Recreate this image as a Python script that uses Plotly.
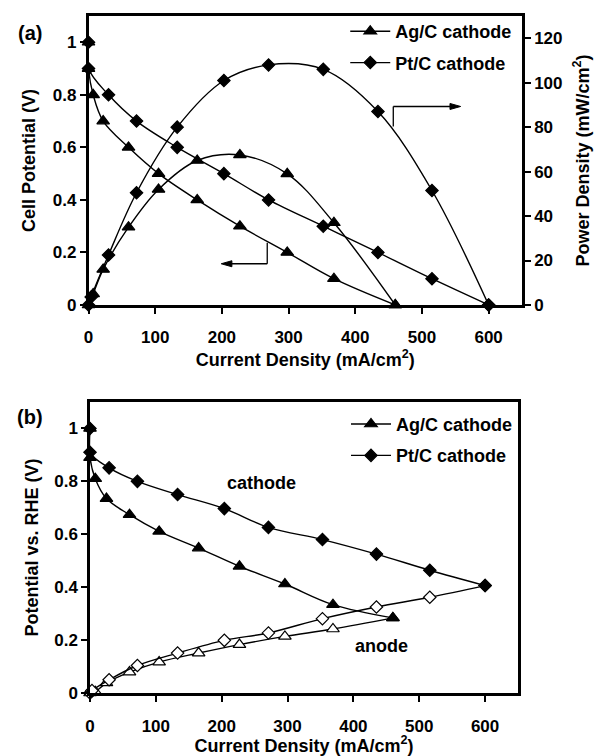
import plotly.graph_objects as go

# ---------------- data ----------------
# Panel (a): cell potential (V) and power density (mW/cm2) vs current density (mA/cm2)
ag_i_a = [0, 0, 7, 22, 60, 105, 163, 227, 298, 368, 460]
ag_v_a = [1.0, 0.9, 0.8, 0.7, 0.6, 0.5, 0.4, 0.3, 0.2, 0.1, 0.0]
ag_pi_a = [0, 7, 22, 60, 105, 163, 227, 298, 368, 460]
ag_p_a = [0, 5, 16, 35, 52, 65, 67.5, 59, 37, 0]

pt_i_a = [0, 0, 30, 72, 133, 203, 270, 352, 434, 515, 600]
pt_v_a = [1.0, 0.9, 0.8, 0.7, 0.6, 0.5, 0.4, 0.3, 0.2, 0.1, 0.0]
pt_pi_a = [0, 4, 30, 72, 133, 203, 270, 352, 434, 515, 600]
pt_p_a = [0, 3.6, 22.5, 50.5, 80, 101, 108, 106, 87, 51.5, 0]

# Panel (b): electrode potentials vs RHE (V)
ag_i_b = [0, 0, 8, 25, 60, 105, 165, 227, 296, 369, 460]
ag_cat_b = [1.0, 0.89, 0.81, 0.735, 0.674, 0.611, 0.548, 0.479, 0.412, 0.334, 0.284]
ag_ai_b = [0, 8, 25, 60, 105, 165, 227, 296, 369, 460]
ag_an_b = [0, 0.005, 0.038, 0.079, 0.117, 0.151, 0.183, 0.214, 0.242, 0.284]

pt_i_b = [0, 0, 29, 72, 133, 204, 271, 353, 435, 516, 600]
pt_cat_b = [1.0, 0.91, 0.851, 0.80, 0.75, 0.697, 0.626, 0.58, 0.525, 0.464, 0.406]
pt_ai_b = [0, 3, 29, 72, 133, 204, 271, 353, 435, 516, 600]
pt_an_b = [0, 0.009, 0.05, 0.104, 0.151, 0.199, 0.227, 0.281, 0.325, 0.362, 0.406]

x_ticks = [0, 100, 200, 300, 400, 500, 600]
v_ticks = [0, 0.2, 0.4, 0.6, 0.8, 1.0]
v_ticktext = ["0", "0.2", "0.4", "0.6", "0.8", "1"]
p_ticks = [0, 20, 40, 60, 80, 100, 120]

series_names = ["Ag/C cathode", "Pt/C cathode"]
x_title = "Current Density (mA/cm<sup>2</sup>)"
ya_title = "Cell Potential (V)"
y2_title = "Power Density (mW/cm<sup>2</sup>)"
yb_title = "Potential vs. RHE (V)"

# ---------------- styling ----------------
FONT = "Liberation Sans, Arial, Helvetica, sans-serif"
FS_TICK = 17
FS = 18
TRI, DIA = 11, 9.5


def trace(x, y, sym, xa, ya, fill="black", size=10, name=None, legend="legend", show=False, group=None):
    return go.Scatter(
        x=x, y=y, mode="lines+markers", name=name, showlegend=show, legend=legend,
        legendgroup=group, xaxis=xa, yaxis=ya, cliponaxis=False,
        line=dict(color="black", width=1.4, shape="spline", smoothing=1.0),
        marker=dict(symbol=sym, size=size, color=fill, line=dict(color="black", width=1.2)),
    )


fig = go.Figure()
# Panel (a)
fig.add_trace(trace(ag_pi_a, ag_p_a, "triangle-up", "x", "y2", size=TRI))
fig.add_trace(trace(pt_pi_a, pt_p_a, "diamond", "x", "y2", size=DIA))
fig.add_trace(trace(ag_i_a, ag_v_a, "triangle-up", "x", "y", size=TRI, name=series_names[0], show=True, group="a1"))
fig.add_trace(trace(pt_i_a, pt_v_a, "diamond", "x", "y", size=DIA, name=series_names[1], show=True, group="a2"))
# Panel (b)
fig.add_trace(trace(ag_ai_b, ag_an_b, "triangle-up", "x2", "y3", fill="white", size=TRI))
fig.add_trace(trace(pt_ai_b, pt_an_b, "diamond", "x2", "y3", fill="white", size=DIA))
fig.add_trace(trace(ag_i_b, ag_cat_b, "triangle-up", "x2", "y3", size=TRI, name=series_names[0],
                    legend="legend2", show=True, group="b1"))
fig.add_trace(trace(pt_i_b, pt_cat_b, "diamond", "x2", "y3", size=DIA, name=series_names[1],
                    legend="legend2", show=True, group="b2"))

W, H = 594, 756
ax_common = dict(showline=True, linecolor="black", linewidth=2.5, ticks="outside", ticklen=6,
                 tickwidth=2, tickcolor="black", showgrid=False, zeroline=False, automargin=False,
                 tickfont=dict(family=FONT, size=FS_TICK, color="black", weight="bold"))
title_font = dict(family=FONT, size=FS, color="black", weight="bold")

dom_xa = [88.5 / W, 522 / W]
dom_ya = [1 - 305 / H, 1 - 16 / H]
dom_xb = [90 / W, 518 / W]
dom_yb = [1 - 693 / H, 1 - 402 / H]

legend_common = dict(xanchor="right", yanchor="top", bgcolor="rgba(0,0,0,0)",
                     font=dict(size=FS), itemwidth=40, tracegroupgap=5, traceorder="grouped")

fig.update_layout(
    width=W, height=H, margin=dict(l=0, r=0, t=0, b=0),
    paper_bgcolor="white", plot_bgcolor="white",
    font=dict(family=FONT, size=FS, color="black", weight="bold"),
    xaxis=dict(domain=dom_xa, anchor="y", range=[0, 650], tickvals=x_ticks, mirror=True,
               ticklabelstandoff=9, title=dict(text=x_title, font=title_font, standoff=6), **ax_common),
    yaxis=dict(domain=dom_ya, anchor="x", range=[0, 1.1], tickvals=v_ticks, ticktext=v_ticktext,
               title=dict(text=ya_title, font=title_font, standoff=13), **ax_common),
    yaxis2=dict(overlaying="y", side="right", anchor="x", range=[0, 130], tickvals=p_ticks,
                title=dict(text=y2_title, font=title_font, standoff=15), **ax_common),
    xaxis2=dict(domain=dom_xb, anchor="y3", range=[0, 650], tickvals=x_ticks, mirror=True,
                ticklabelstandoff=10, title=dict(text=x_title, font=title_font, standoff=5), **ax_common),
    yaxis3=dict(domain=dom_yb, anchor="x2", range=[0, 1.1], tickvals=v_ticks, ticktext=v_ticktext,
                mirror=True, title=dict(text=yb_title, font=title_font, standoff=11), **ax_common),
    legend=dict(x=dom_xa[1] - 0.008, y=dom_ya[1] + 0.004, **legend_common),
    legend2=dict(x=dom_xb[1] + 0.0, y=dom_yb[1] - 0.005, **legend_common),
)

ann = []
def ptext(text, x, y, angle=0, size=FS):
    ann.append(dict(text=text, x=x / W, y=1 - y / H, xref="paper", yref="paper", showarrow=False,
                    textangle=angle, font=dict(size=size), xanchor="center", yanchor="middle"))

ptext("(a)", 30, 33, size=20)
ptext("(b)", 30, 417, size=20)

# in-plot labels (panel b)
ann.append(dict(text="cathode", x=261, y=0.795, xref="x2", yref="y3", showarrow=False, font=dict(size=FS)))
ann.append(dict(text="anode", x=442, y=0.179, xref="x2", yref="y3", showarrow=False, font=dict(size=FS)))
fig.update_layout(annotations=ann)

# guide arrows (panel a), drawn as line shapes with filled heads
LW = 1.3
fig.add_shape(type="line", x0=268, x1=268, y0=0.157, y1=0.237, xref="x", yref="y", line=dict(color="black", width=LW))
fig.add_shape(type="line", x0=268, x1=212, y0=0.157, y1=0.157, xref="x", yref="y", line=dict(color="black", width=LW))
fig.add_shape(type="path", path="M 199,0.157 L 215,0.1455 L 215,0.1685 Z", xref="x", yref="y",
              fillcolor="black", line=dict(color="black", width=1))
fig.add_shape(type="line", x0=457, x1=457, y0=80.3, y1=89.3, xref="x", yref="y2", line=dict(color="black", width=LW))
fig.add_shape(type="line", x0=457, x1=545, y0=89.3, y1=89.3, xref="x", yref="y2", line=dict(color="black", width=LW))
fig.add_shape(type="path", path="M 558,89.3 L 542,87.95 L 542,90.65 Z", xref="x", yref="y2",
              fillcolor="black", line=dict(color="black", width=1))

fig.write_html("out.html")
